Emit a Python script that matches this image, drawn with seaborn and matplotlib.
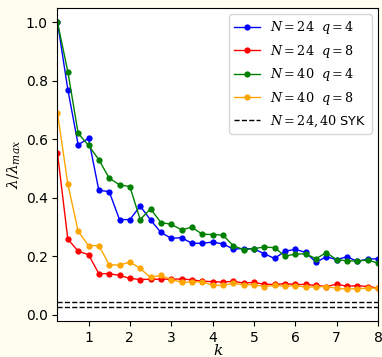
import numpy as np
import pandas as pd
import matplotlib
matplotlib.use("Agg")
import matplotlib.pyplot as plt
import seaborn as sns

k = [0.25, 0.5, 0.75, 1.0, 1.25, 1.5, 1.75, 2.0, 2.25, 2.5, 2.75, 3.0, 3.25, 3.5, 3.75, 4.0,
     4.25, 4.5, 4.75, 5.0, 5.25, 5.5, 5.75, 6.0, 6.25, 6.5, 6.75, 7.0, 7.25, 7.5, 7.75, 8.0]

n24_q4 = [1.0, 0.77, 0.581, 0.603, 0.425, 0.421, 0.325, 0.325, 0.371, 0.324, 0.281, 0.261,
          0.263, 0.244, 0.244, 0.248, 0.242, 0.224, 0.226, 0.225, 0.208, 0.192, 0.217, 0.223,
          0.213, 0.179, 0.198, 0.188, 0.198, 0.182, 0.19, 0.191]
n24_q8 = [0.552, 0.258, 0.217, 0.205, 0.14, 0.14, 0.134, 0.124, 0.12, 0.121, 0.121, 0.121,
          0.122, 0.119, 0.114, 0.113, 0.111, 0.114, 0.108, 0.11, 0.104, 0.103, 0.106, 0.103,
          0.103, 0.1, 0.096, 0.104, 0.097, 0.099, 0.096, 0.091]
n40_q4 = [1.0, 0.831, 0.62, 0.579, 0.53, 0.467, 0.444, 0.438, 0.325, 0.362, 0.315, 0.309,
          0.29, 0.299, 0.275, 0.274, 0.272, 0.236, 0.222, 0.226, 0.231, 0.229, 0.2, 0.207,
          0.208, 0.191, 0.212, 0.188, 0.184, 0.183, 0.187, 0.176]
n40_q8 = [0.689, 0.447, 0.285, 0.236, 0.236, 0.171, 0.169, 0.18, 0.158, 0.127, 0.134, 0.12,
          0.111, 0.111, 0.113, 0.1, 0.1, 0.107, 0.102, 0.102, 0.096, 0.1, 0.097, 0.099,
          0.094, 0.095, 0.096, 0.09, 0.087, 0.089, 0.09, 0.091]
syk = [0.0445, 0.027]

labels = [r"$N=24\ \ q=4$", r"$N=24\ \ q=8$", r"$N=40\ \ q=4$", r"$N=40\ \ q=8$"]
colors = ["blue", "red", "green", "orange"]
series = [n24_q4, n24_q8, n40_q4, n40_q8]

plt.rcParams["mathtext.fontset"] = "dejavuserif"

frames = []
for lab, vals in zip(labels, series):
    frames.append(pd.DataFrame({"k": k, "val": vals, "series": lab}))
df = pd.concat(frames, ignore_index=True)

fig = plt.figure(figsize=(3.82, 3.57), dpi=100, facecolor="#fdfdf0")
ax = fig.add_axes([0.1505, 0.1008, 0.8390, 0.8768])
ax.set_facecolor("white")

sns.lineplot(data=df, x="k", y="val", hue="series", hue_order=labels,
             palette=dict(zip(labels, colors)), marker="o", markersize=4.5,
             markeredgewidth=0, linewidth=1.0, ax=ax, estimator=None, sort=False)

for i, y in enumerate(syk):
    ax.axhline(y, color="black", linestyle="--", linewidth=1.0,
               label=r"$N=24,40$ SYK" if i == 0 else None)

ax.set_xlim(0.25, 8)
ax.set_ylim(-0.022, 1.049)
ax.set_xticks([1, 2, 3, 4, 5, 6, 7, 8])
ax.set_yticks([0.0, 0.2, 0.4, 0.6, 0.8, 1.0])
ax.tick_params(labelsize=10, length=3.5)
ax.set_xlabel(r"$k$", fontsize=11, labelpad=-1)
ax.set_ylabel(r"$\lambda/\lambda_{max}$", fontsize=11, labelpad=2)

handles, labs = ax.get_legend_handles_labels()
ax.legend(handles, labs, loc="upper right", fontsize=9.2, frameon=True)

fig.savefig("out.png", dpi=100, facecolor=fig.get_facecolor())
